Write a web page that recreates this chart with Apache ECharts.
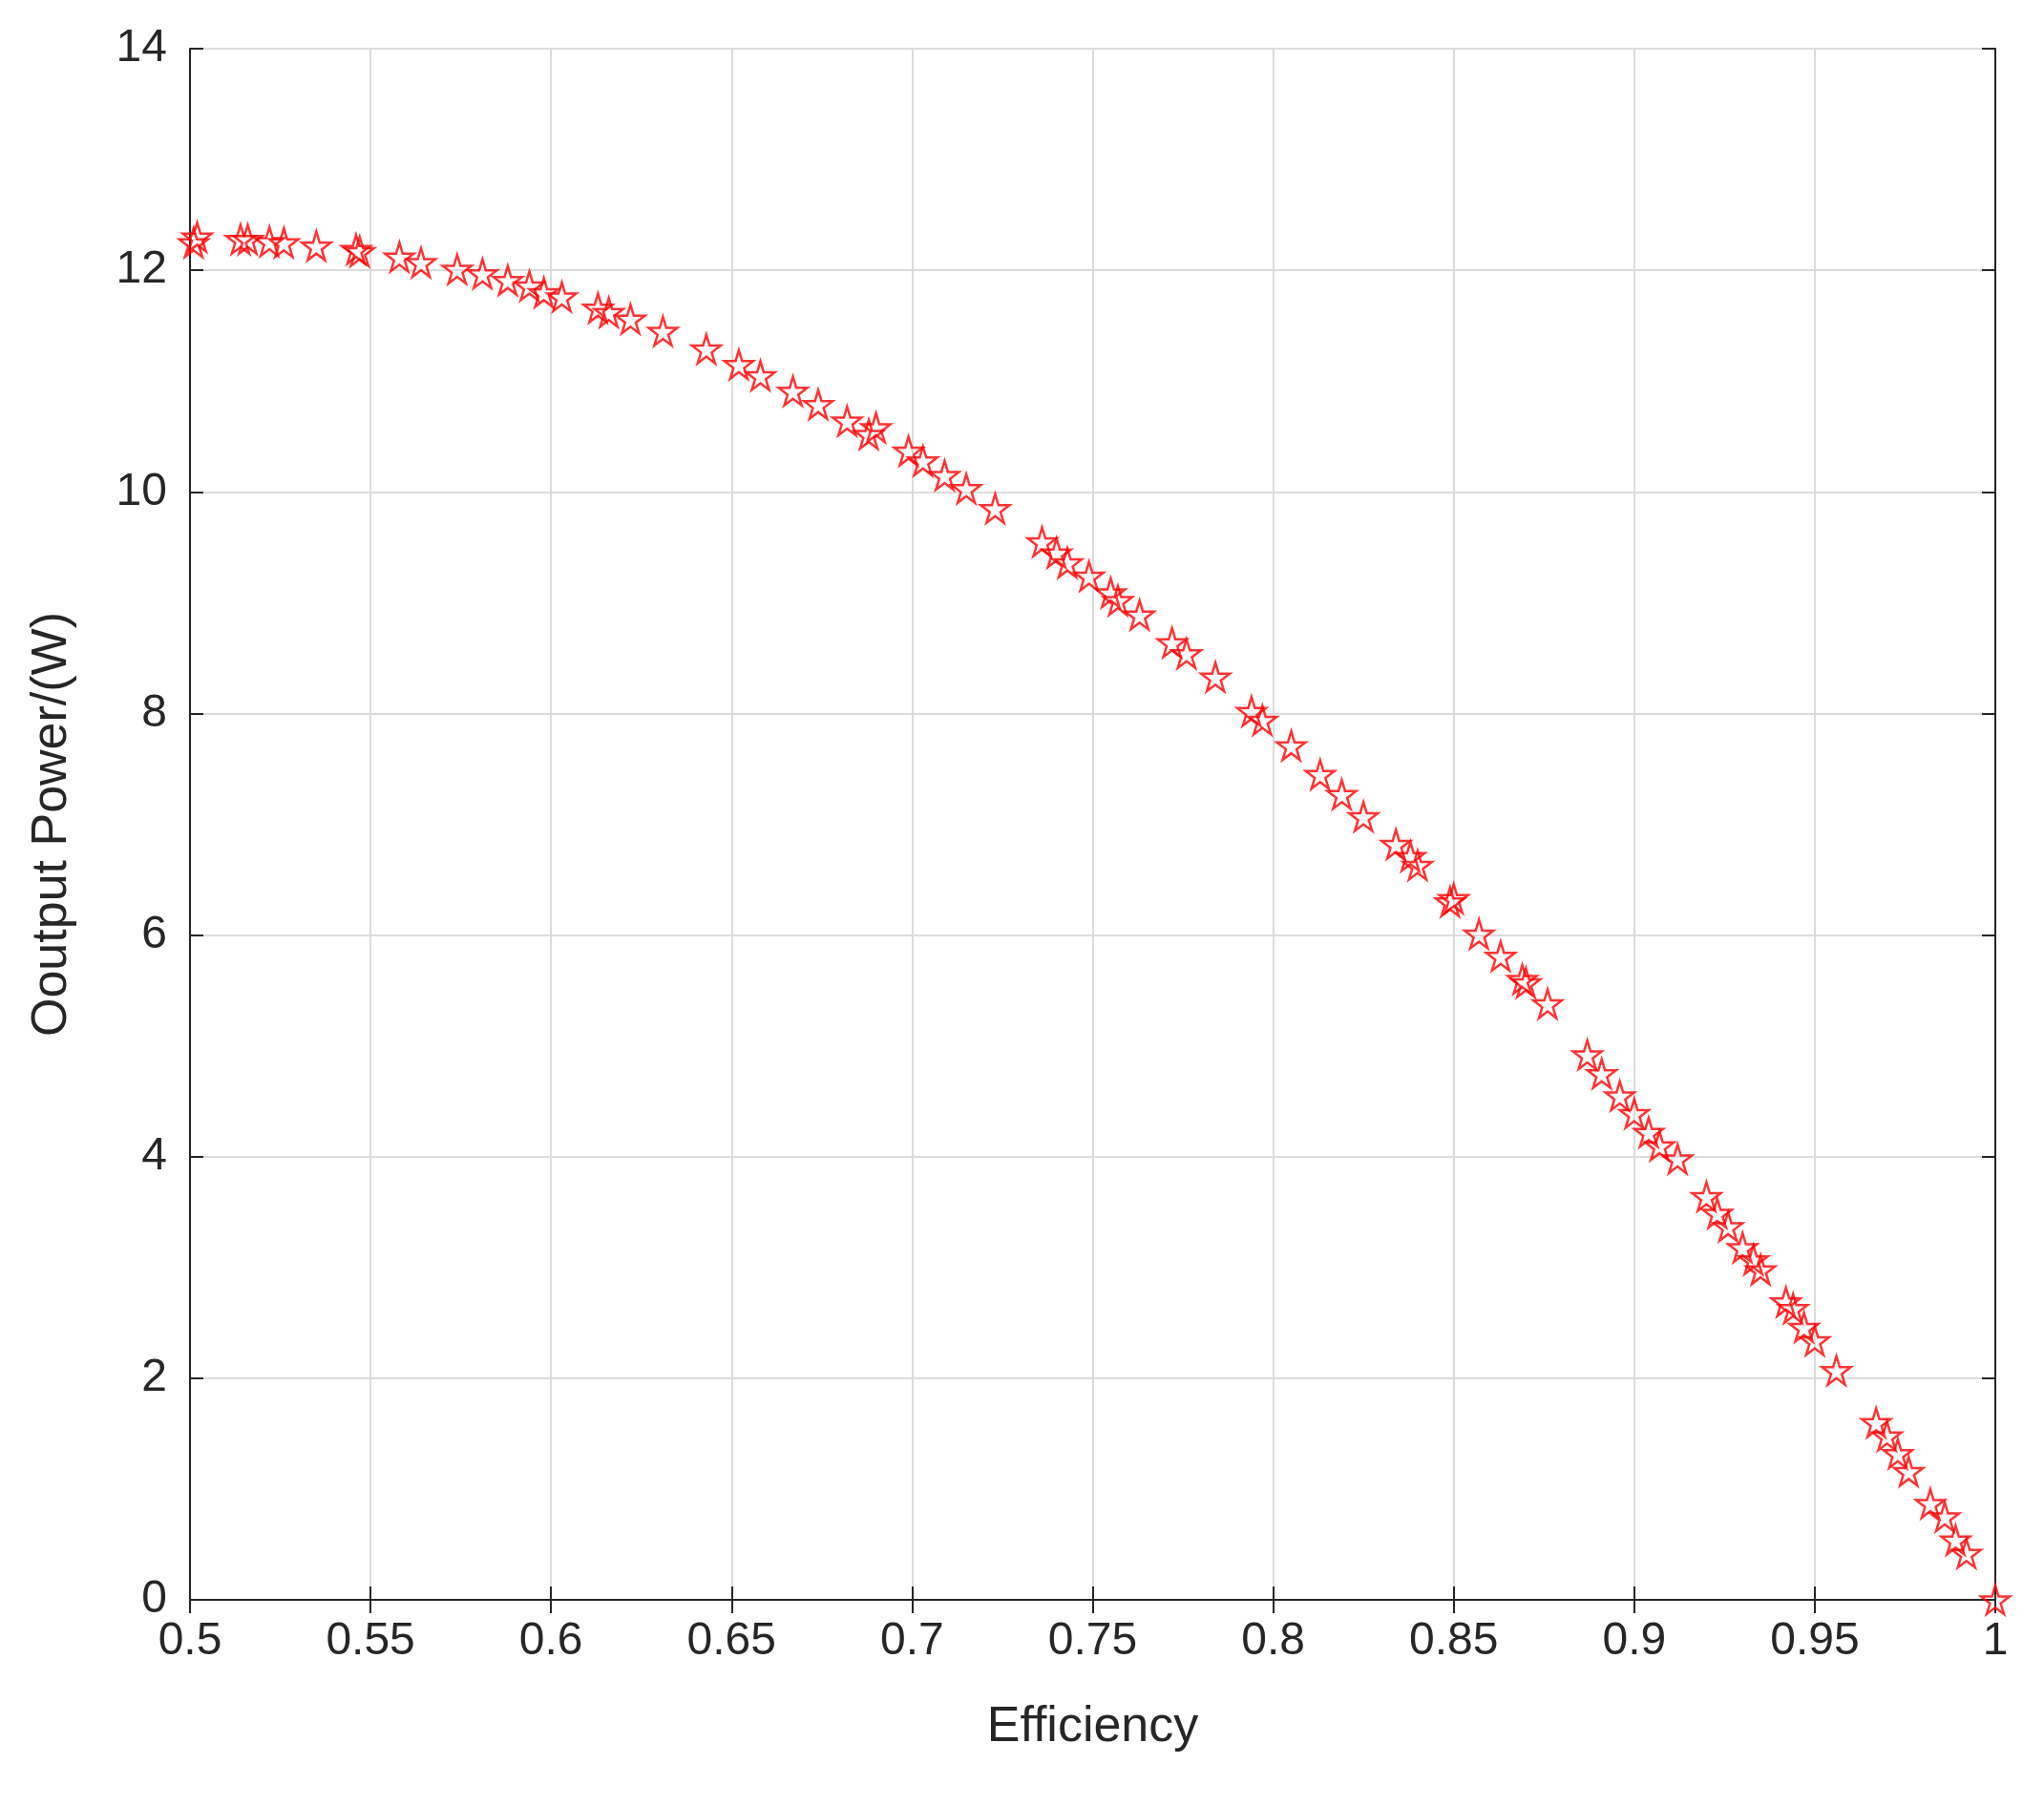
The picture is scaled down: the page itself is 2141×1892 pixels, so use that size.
<!DOCTYPE html>
<html>
<head>
<meta charset="utf-8">
<script src="https://cdn.jsdelivr.net/npm/echarts@6/dist/echarts.min.js"></script>
<style>html,body{margin:0;padding:0;background:#fff;}#chart{width:2141px;height:1892px;}</style>
</head>
<body>
<div id="chart"></div>
<script>
var efficiency = [0.502,0.501,0.514,0.516,0.522,0.526,0.535,0.546,0.547,0.558,0.564,0.574,0.581,0.588,0.594,0.598,0.603,0.613,0.616,0.622,0.631,0.643,0.652,0.658,0.667,0.674,0.682,0.688,0.690,0.699,0.703,0.709,0.715,0.723,0.736,0.740,0.743,0.749,0.755,0.757,0.763,0.772,0.776,0.784,0.794,0.797,0.805,0.813,0.819,0.825,0.834,0.838,0.840,0.849,0.850,0.857,0.863,0.869,0.870,0.876,0.887,0.891,0.896,0.900,0.904,0.907,0.912,0.920,0.923,0.926,0.930,0.933,0.935,0.942,0.944,0.947,0.950,0.956,0.967,0.970,0.973,0.976,0.982,0.986,0.989,0.992,1.000];
var power = [12.30,12.25,12.28,12.28,12.26,12.25,12.22,12.19,12.17,12.12,12.07,12.01,11.97,11.91,11.86,11.80,11.76,11.66,11.62,11.56,11.45,11.29,11.15,11.05,10.91,10.79,10.64,10.52,10.58,10.37,10.28,10.15,10.03,9.85,9.55,9.45,9.36,9.24,9.09,9.02,8.89,8.64,8.54,8.33,8.02,7.94,7.71,7.45,7.27,7.07,6.82,6.71,6.63,6.30,6.33,6.01,5.81,5.60,5.57,5.38,4.92,4.75,4.55,4.39,4.22,4.10,3.98,3.64,3.49,3.37,3.18,3.07,2.98,2.69,2.63,2.46,2.34,2.07,1.60,1.48,1.32,1.16,0.87,0.75,0.54,0.42,0.00];
var points = efficiency.map(function (e, i) { return [e, power[i]]; });

var starPath = 'path://M50,0 L61,35 L98,35 L68,57 L79,91 L50,70 L21,91 L32,57 L2,35 L39,35 Z';
var font = 'Liberation Sans';
var chart = echarts.init(document.getElementById('chart'));
var lineStyle = { color: '#262626', width: 2 };
var option = {
    animation: false,
    backgroundColor: '#fff',
    grid: { left: 199, right: 51, top: 51, bottom: 216 },
    xAxis: [{
        type: 'value', min: 0.5, max: 1, interval: 0.05,
        name: 'Efficiency', nameLocation: 'middle', nameGap: 108,
        nameTextStyle: { fontFamily: font, fontSize: 52, color: '#262626' },
        axisLine: { lineStyle: lineStyle },
        axisTick: { inside: true, length: 14, lineStyle: lineStyle },
        axisLabel: { fontFamily: font, fontSize: 48, color: '#262626', margin: 20,
            formatter: function (v) { return +v.toFixed(2) + ''; } },
        splitLine: { show: true, lineStyle: { color: '#dcdcdc', width: 2 } }
    }, {
        type: 'value', min: 0.5, max: 1, interval: 0.05, position: 'top',
        axisLine: { show: true, lineStyle: lineStyle },
        axisTick: { inside: true, length: 14, lineStyle: lineStyle },
        axisLabel: { show: false }, splitLine: { show: false }
    }],
    yAxis: [{
        type: 'value', min: 0, max: 14, interval: 2,
        name: 'Ooutput Power/(W)', nameLocation: 'middle', nameGap: 118,
        nameTextStyle: { fontFamily: font, fontSize: 52, color: '#262626' },
        axisLine: { show: true, lineStyle: lineStyle },
        axisTick: { show: true, inside: true, length: 14, lineStyle: lineStyle },
        axisLabel: { fontFamily: font, fontSize: 48, color: '#262626', margin: 24 },
        splitLine: { show: true, lineStyle: { color: '#dcdcdc', width: 2 } }
    }, {
        type: 'value', min: 0, max: 14, interval: 2, position: 'right',
        axisLine: { show: true, lineStyle: lineStyle },
        axisTick: { show: true, inside: true, length: 14, lineStyle: lineStyle },
        axisLabel: { show: false }, splitLine: { show: false }
    }],
    series: [{
        type: 'scatter',
        data: points,
        symbol: starPath,
        symbolSize: 30,
        itemStyle: { color: 'rgba(255,255,255,0)', borderColor: '#ff0000', borderWidth: 2.5 }
    }]
};
chart.setOption(option);
</script>
</body>
</html>
